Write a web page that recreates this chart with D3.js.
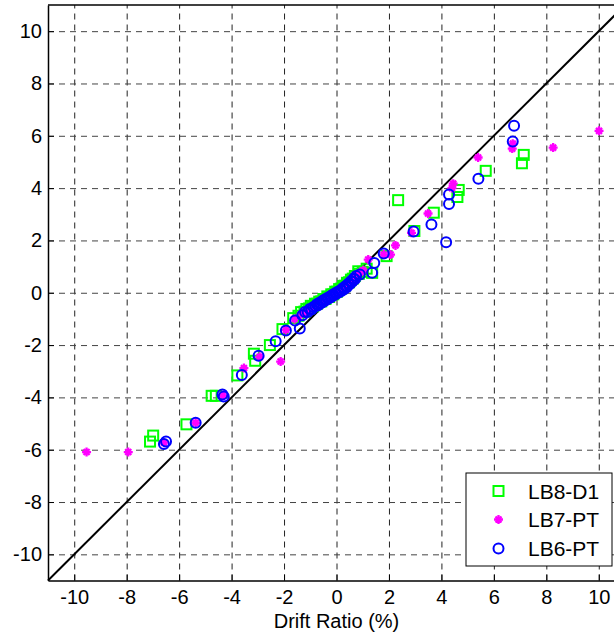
<!DOCTYPE html>
<html>
<head>
<meta charset="utf-8">
<script src="https://cdn.jsdelivr.net/npm/d3@7"></script>
<style>
  html, body { margin: 0; padding: 0; background: #fff; }
  svg { display: block; font-family: "Liberation Sans", Arial, sans-serif; }
</style>
</head>
<body>
<div id="chart"></div>
<script>
// ---- data ----
const tickValues = [-10, -8, -6, -4, -2, 0, 2, 4, 6, 8, 10];
const xLabel = "Drift Ratio (%)";
const seriesNames = ["LB8-D1", "LB7-PT", "LB6-PT"];

const lb8x = [7.14, 7.07, 5.69, 4.66, 4.61, 3.71, 2.35, 2.97, 1.91, 1.36, 0.83,
  -6.99, -7.11, -5.72, -4.76, -4.60, -3.78, -3.15, -3.10, -2.54, -2.06, -1.65,
  -1.45, -1.35, -1.22, -1.15, -1.05, -0.98, -0.9, -0.82, -0.74, -0.66, -0.58, -0.5, -0.42, -0.35, -0.28, -0.2, -0.12, -0.05,
  0.02, 0.1, 0.18, 0.25, 0.32, 0.4, 0.48, 0.55, 0.62, 0.7, 0.85, 1.0, 1.15];
const lb8y = [5.27, 4.95, 4.66, 3.93, 3.66, 3.06, 3.54, 2.36, 1.40, 0.76, 0.82,
  -5.46, -5.69, -5.03, -3.94, -3.94, -3.16, -2.33, -2.60, -2.00, -1.39, -0.97,
  -0.88, -0.74, -0.72, -0.62, -0.6, -0.5, -0.52, -0.42, -0.42, -0.34, -0.33, -0.24, -0.24, -0.14, -0.16, -0.06, -0.06, 0.04,
  0.04, 0.14, 0.16, 0.26, 0.27, 0.38, 0.4, 0.5, 0.54, 0.64, 0.72, 0.8, 0.92];

const lb7x = [10.01, 8.26, 6.70, 6.72, 5.40, 4.45, 4.40, 3.49, 2.86, 2.25, 2.06, 1.80, 1.21, 1.02,
  -9.53, -7.94, -6.58, -5.37, -4.33, -3.53, -2.93, -2.13, -1.93, -1.60,
  -1.35, -1.2, -1.1, -1.0, -0.9, -0.8, -0.7, -0.6, -0.5, -0.4, -0.3, -0.2, -0.1, 0.0, 0.1, 0.2, 0.3, 0.4, 0.5, 0.6, 0.7, 0.8, 0.9];
const lb7y = [6.19, 5.55, 5.51, 5.70, 5.17, 4.17, 4.00, 3.03, 2.29, 1.81, 1.46, 1.46, 1.27, 0.86,
  -6.09, -6.09, -5.73, -4.97, -3.92, -2.88, -2.45, -2.63, -1.42, -1.00,
  -0.82, -0.75, -0.66, -0.62, -0.52, -0.5, -0.42, -0.36, -0.32, -0.24, -0.2, -0.1, -0.06, 0.0, 0.08, 0.16, 0.24, 0.34, 0.42, 0.52, 0.6, 0.7, 0.78];

const lb6x = [6.77, 6.72, 5.41, 4.29, 4.29, 3.62, 4.18, 2.94, 1.80, 1.44, 1.36, 0.89,
  -6.58, -6.50, -5.37, -4.35, -4.30, -3.61, -2.97, -2.32, -1.93, -1.58, -1.40,
  -1.3, -1.2, -1.1, -1.02, -0.95, -0.88, -0.8, -0.75, -0.7, -0.65, -0.6, -0.55, -0.5, -0.45, -0.4, -0.35, -0.3, -0.25, -0.2, -0.15, -0.1, -0.05,
  0.0, 0.05, 0.1, 0.15, 0.2, 0.25, 0.3, 0.35, 0.4, 0.45, 0.5, 0.55, 0.6, 0.65, 0.7, 0.75];
const lb6y = [6.38, 5.78, 4.36, 3.76, 3.39, 2.61, 1.93, 2.34, 1.50, 1.14, 0.76, 0.70,
  -5.78, -5.69, -4.97, -3.89, -3.97, -3.14, -2.41, -1.85, -1.44, -1.06, -1.37,
  -0.86, -0.74, -0.74, -0.62, -0.64, -0.54, -0.52, -0.44, -0.48, -0.38, -0.4, -0.32, -0.34, -0.26, -0.28, -0.2, -0.22, -0.14, -0.16, -0.08, -0.1, -0.02,
  -0.04, 0.04, 0.02, 0.1, 0.08, 0.18, 0.14, 0.26, 0.22, 0.34, 0.32, 0.44, 0.42, 0.54, 0.52, 0.64];

// ---- layout ----
const W = 614, H = 636;
const svg = d3.select("#chart").append("svg").attr("width", W).attr("height", H);

const x = d3.scaleLinear().domain([-11, 11]).range([48, 625]);
const y = d3.scaleLinear().domain([-11, 11]).range([580.5, 5]);
const fmt = d => String(d);

const g = svg.append("g");

// grid
g.append("g")
  .attr("transform", `translate(0,${y(-11)})`)
  .call(d3.axisBottom(x).tickValues(tickValues).tickSize(-(y(-11) - y(11))).tickFormat(""))
  .call(s => s.select(".domain").remove())
  .call(s => s.selectAll("line").attr("stroke", "#222").attr("stroke-dasharray", "6,5"));
g.append("g")
  .attr("transform", `translate(${x(-11)},0)`)
  .call(d3.axisLeft(y).tickValues(tickValues).tickSize(-(x(11) - x(-11))).tickFormat(""))
  .call(s => s.select(".domain").remove())
  .call(s => s.selectAll("line").attr("stroke", "#444").attr("stroke-dasharray", "6,5"));

// diagonal
g.append("line")
  .attr("x1", x(-11)).attr("y1", y(-11)).attr("x2", x(11)).attr("y2", y(11))
  .attr("stroke", "#000").attr("stroke-width", 2);

// markers
const lb8 = lb8x.map((v, i) => [v, lb8y[i]]);
const lb7 = lb7x.map((v, i) => [v, lb7y[i]]);
const lb6 = lb6x.map((v, i) => [v, lb6y[i]]);

function drawSquare(sel) {
  sel.append("rect").attr("x", -5).attr("y", -5).attr("width", 10).attr("height", 10)
    .attr("fill", "none").attr("stroke", "#00ff00").attr("stroke-width", 2);
}
function drawStar(sel) {
  sel.append("path")
    .attr("d", "M0,-4.5L0,4.5M-4.5,0L4.5,0M-3,-3L3,3M-3,3L3,-3")
    .attr("stroke", "#ff00ff").attr("stroke-width", 2.3).attr("fill", "none");
}
function drawCircle(sel) {
  sel.append("circle").attr("r", 5).attr("fill", "none")
    .attr("stroke", "#0000ff").attr("stroke-width", 2);
}

g.append("g").selectAll("g").data(lb8).join("g")
  .attr("transform", d => `translate(${x(d[0])},${y(d[1])})`).call(drawSquare);
g.append("g").selectAll("g").data(lb7).join("g")
  .attr("transform", d => `translate(${x(d[0])},${y(d[1])})`).call(drawStar);
g.append("g").selectAll("g").data(lb6).join("g")
  .attr("transform", d => `translate(${x(d[0])},${y(d[1])})`).call(drawCircle);

// axes
const xAxis = g.append("g")
  .attr("transform", `translate(0,${y(-11)})`)
  .call(d3.axisBottom(x).tickValues(tickValues).tickFormat(fmt).tickSize(-6).tickSizeOuter(0).tickPadding(0));
xAxis.select(".domain").attr("stroke-width", 1.5);
xAxis.selectAll("text").attr("y", 9.5).attr("font-size", 20).attr("fill", "#000")
  .attr("font-family", "Liberation Sans, Arial, sans-serif");

const yAxis = g.append("g")
  .attr("transform", `translate(${x(-11)},0)`)
  .call(d3.axisLeft(y).tickValues(tickValues).tickFormat(fmt).tickSize(-6).tickSizeOuter(0).tickPadding(0));
yAxis.select(".domain").attr("stroke-width", 1.5);
yAxis.selectAll("text").attr("x", -6).attr("font-size", 20).attr("fill", "#000")
  .attr("font-family", "Liberation Sans, Arial, sans-serif");

// top border
g.append("line").attr("x1", x(-11)).attr("x2", x(11)).attr("y1", y(11)).attr("y2", y(11))
  .attr("stroke", "#000").attr("stroke-width", 1.5);

// x label
svg.append("text").attr("x", x(0)).attr("y", 628).attr("text-anchor", "middle")
  .attr("font-size", 20).text(xLabel);

// legend
const leg = svg.append("g");
leg.append("rect").attr("x", 466).attr("y", 473).attr("width", 146).attr("height", 93)
  .attr("fill", "#fff").attr("stroke", "#000").attr("stroke-width", 1);
const rowsY = [491, 519.5, 548.5];
const drawers = [drawSquare, drawStar, drawCircle];
seriesNames.forEach((name, i) => {
  leg.append("g").attr("transform", `translate(498.5,${rowsY[i]})`).call(drawers[i]);
  leg.append("text").attr("x", 528).attr("y", rowsY[i] + 7.5).attr("font-size", 21).text(name);
});
</script>
</body>
</html>
